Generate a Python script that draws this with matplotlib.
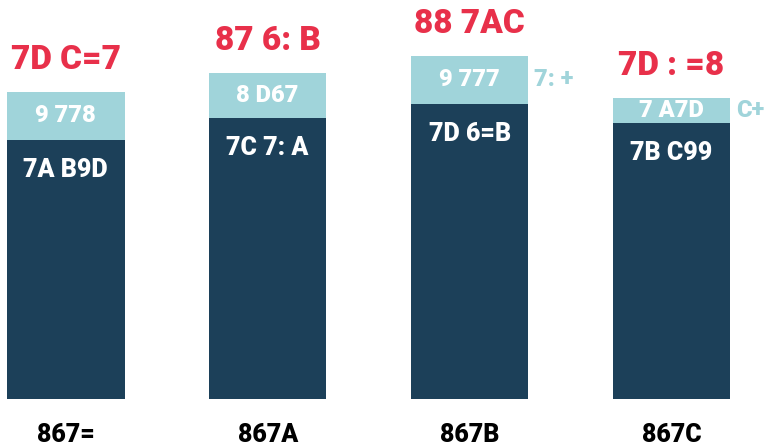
import matplotlib
matplotlib.use("Agg")
import matplotlib.pyplot as plt

categories = ["867=", "867A", "867B", "867C"]
base_values = [259, 281, 295, 276]
top_values = [48, 45, 48, 25]
total_labels = ["7D C=7", "87 6: B", "88 7AC", "7D : =8"]
top_labels = ["9 778", "8 D67", "9 777", "7 A7D"]
base_labels = ["7A B9D", "7C 7: A", "7D 6=B", "7B C99"]
side_labels = ["", "", "7: +", "C+"]

DARK = "#1c4059"
LIGHT = "#a0d4da"
RED = "#e8304a"
FONT = ["Roboto", "DejaVu Sans"]

fig = plt.figure(figsize=(7.68, 4.46), dpi=100)
ax = fig.add_axes([0, 47/446, 1, 399/446])
x = list(range(len(categories)))
w = 0.582
ax.bar(x, base_values, width=w, color=DARK)
ax.bar(x, top_values, width=w, bottom=base_values, color=LIGHT)
ax.set_xlim(-0.3257, 3.478)
ax.set_ylim(0, 399)
ax.axis("off")

for i in x:
    b = base_values[i]
    t = top_values[i]
    ax.text(i, b + t + 16, total_labels[i], ha="center", va="bottom",
            color=RED, fontsize=24, fontweight="heavy", family=FONT)
    ax.text(i, b + t / 2, top_labels[i], ha="center", va="center",
            color="white", fontsize=17, fontweight="heavy", family=FONT)
    ax.text(i, b - 30, base_labels[i], ha="center", va="center",
            color="white", fontsize=18, fontweight="heavy", family=FONT)
    if side_labels[i]:
        ax.text(i + w / 2 + 0.03, b + t / 2, side_labels[i], ha="left",
                va="center", color=LIGHT, fontsize=17, fontweight="heavy",
                family=FONT)
    ax.text(i, -36, categories[i], ha="center", va="center", color="black",
            fontsize=18, fontweight="heavy", family=FONT, clip_on=False)

fig.savefig("out.png", dpi=100)
